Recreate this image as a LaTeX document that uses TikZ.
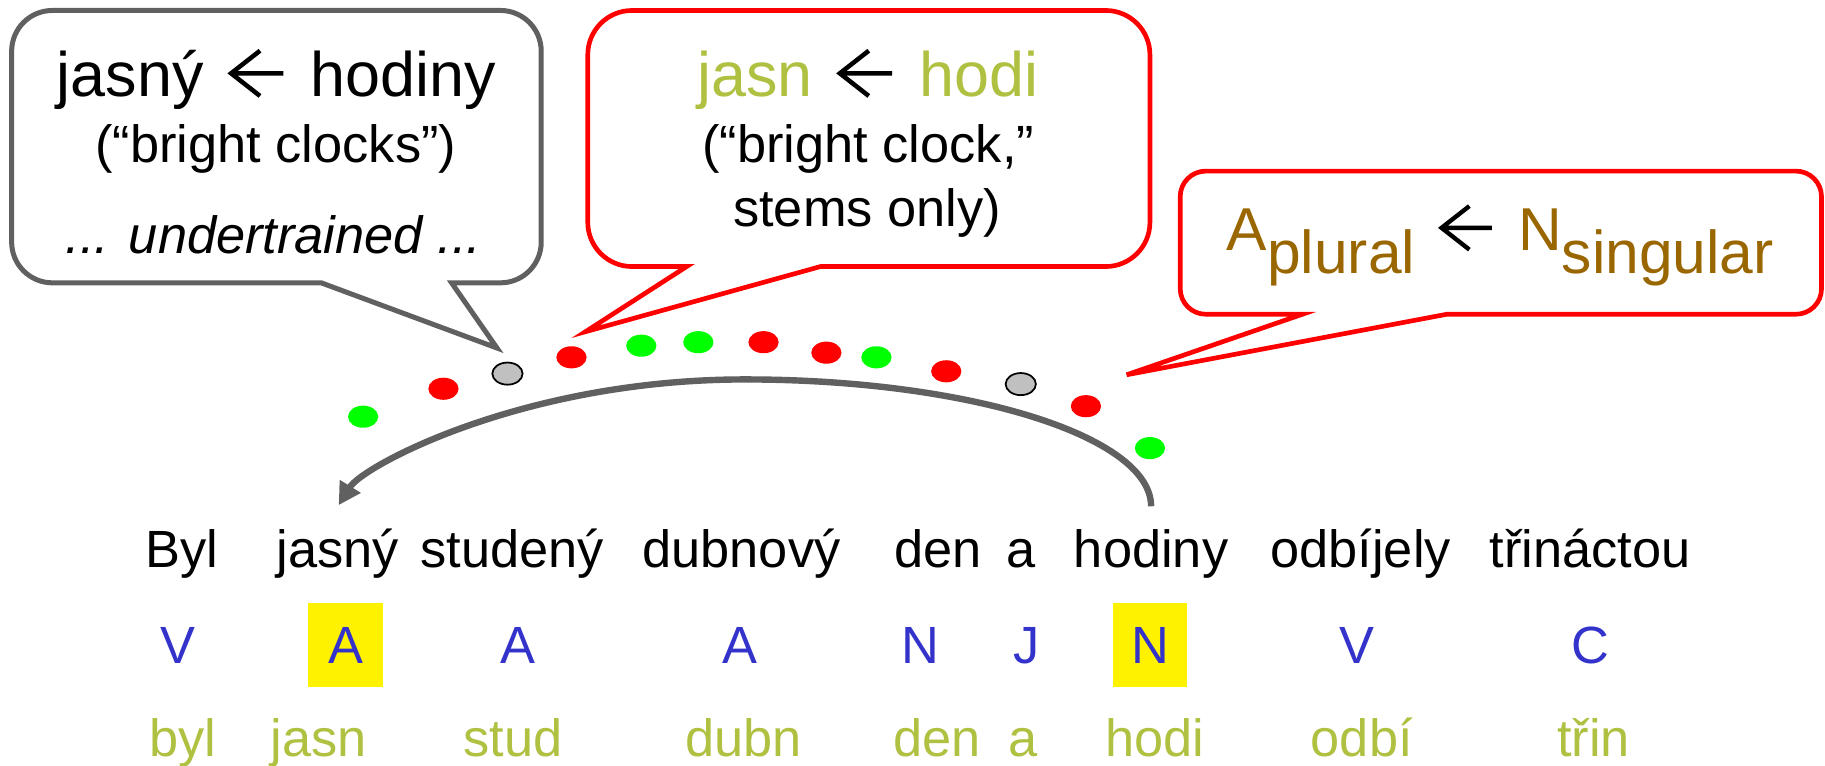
\documentclass[tikz,border=0pt]{standalone}
\usepackage{fontspec}
\setmainfont{Liberation Sans}
\usetikzlibrary{arrows.meta,shapes.geometric,calc}

\definecolor{stemgreen}{HTML}{B0C040}
\definecolor{tagblue}{HTML}{3333CC}
\definecolor{catbrown}{HTML}{996600}
\definecolor{calloutgray}{HTML}{606060}
\definecolor{dotgreen}{HTML}{00FF00}
\definecolor{dotred}{HTML}{FF0000}
\definecolor{dotgray}{HTML}{C0C0C0}

% open-headed left arrow used inside the callout texts
\newcommand{\larr}{\hspace{0.4em}\tikz[baseline=0pt]\draw[black,line width=0.072em,line cap=butt,line join=miter]
  (0.86em,0.37em) -- (0.03em,0.37em)
  (0.49em,0.73em) -- (0.03em,0.37em) -- (0.49em,0.01em);\hspace{0.4em}}

\begin{document}
\begin{tikzpicture}[x=1pt,y=-1pt,
  word/.style={anchor=base,inner sep=0pt,font=\fontsize{45}{54}\selectfont},
  tag/.style={word,text=tagblue},
  hltag/.style={tag,fill=yellow,text height=52pt,text depth=20pt,minimum width=64pt},
  stem/.style={word,text=stemgreen},
  big/.style={anchor=base,inner sep=0pt,font=\fontsize{54}{62}\selectfont},
  small/.style={anchor=base,inner sep=0pt,font=\fontsize{45}{54}\selectfont},
  dot/.style={ellipse,minimum width=26pt,minimum height=19pt,inner sep=0pt},
  gdot/.style={dot,fill=dotgreen},
  rdot/.style={dot,fill=dotred},
  udot/.style={dot,fill=dotgray,draw=black,line width=1.5pt},
  graycall/.style={draw=calloutgray,line width=4.3pt,fill=white,line join=miter},
  redcall/.style={draw=red,line width=4pt,fill=white,line join=miter},
  link/.style={draw=calloutgray,line width=5.5pt,-{Triangle[width=20pt,length=19pt]}}
]
\useasboundingbox (0,0) rectangle (1568,658);

% sentence
\node[word] (w1) at (156,488) {Byl};
\node[word] (w2) at (290,488) {jasný};
\node[word] (w3) at (440,488) {studený};
\node[word] (w4) at (637,488) {dubnový};
\node[word] (w5) at (806,488) {den};
\node[word] (w6) at (877,488) {a};
\node[word] (w7) at (989,488) {hodiny};
\node[word] (w8) at (1169,488) {odbíjely};
\node[word] (w9) at (1366,488) {třináctou};

% part-of-speech tags
\node[tag]   (t1) at (153,570) {V};
\node[hltag] (t2) at (297,570) {A};
\node[tag]   (t3) at (445,570) {A};
\node[tag]   (t4) at (636,570) {A};
\node[tag]   (t5) at (791,570) {N};
\node[tag]   (t6) at (882,570) {J};
\node[hltag] (t7) at (988,570) {N};
\node[tag]   (t8) at (1166,570) {V};
\node[tag]   (t9) at (1366,570) {C};

% stems
\node[stem] (s1) at (157,650) {byl};
\node[stem] (s2) at (274,650) {jasn};
\node[stem] (s3) at (441,650) {stud};
\node[stem] (s4) at (639,650) {dubn};
\node[stem] (s5) at (805,650) {den};
\node[stem] (s6) at (879,650) {a};
\node[stem] (s7) at (992,650) {hodi};
\node[stem] (s8) at (1170,650) {odbí};
\node[stem] (s9) at (1369,650) {třin};

% dependency arc from hodiny back to jasný
\coordinate (arcstart) at ($(w7.base)+(0,-53)$);
\coordinate (arcend) at ($(w2.base)+(1,-54)$);
\draw[link] (arcstart) .. controls (989,375) and (833,326) .. (640,326)
  .. controls (450,326) and (312,400) .. (arcend);

% feature dots
\node[gdot] (d1)  at (312,358) {};
\node[rdot] (d2)  at (381,334) {};
\node[udot] (d3)  at (436,321) {};
\node[rdot] (d4)  at (491,307) {};
\node[gdot] (d5)  at (551,297) {};
\node[gdot] (d6)  at (600,294) {};
\node[rdot] (d7)  at (656,294) {};
\node[rdot] (d8)  at (710,303) {};
\node[gdot] (d9)  at (753,307) {};
\node[rdot] (d10) at (813,319) {};
\node[udot] (d11) at (877,330) {};
\node[rdot] (d12) at (933,349) {};
\node[gdot] (d13) at (988,385) {};

% callout pointer tips
\coordinate (tipG)  at (427,299);
\coordinate (tipR1) at (503,285);
\coordinate (tipR2) at (968,322);

% gray callout
\draw[graycall] (45,9) -- (430,9) arc[start angle=90,end angle=0,radius=35pt]
  -- (465,208) arc[start angle=0,end angle=-90,radius=35pt]
  -- (388,243) -- (tipG) -- (276,243)
  -- (45,243) arc[start angle=270,end angle=180,radius=35pt]
  -- (10,44) arc[start angle=180,end angle=90,radius=35pt] -- cycle;
\node[big]   (g1) at (237.5,83) {jasný\larr hodiny};
\node[small] (g2) at (237,140) {(“bright clocks”)};
\node[small,font=\fontsize{45}{54}\selectfont\itshape] (g3) at (235,218) {... undertrained ...};

% stem callout
\draw[redcall] (543,9) -- (950,9) arc[start angle=90,end angle=0,radius=38pt]
  -- (988,191) arc[start angle=0,end angle=-90,radius=38pt]
  -- (705,229) -- (tipR1) -- (590,229)
  -- (543,229) arc[start angle=270,end angle=180,radius=38pt]
  -- (505,47) arc[start angle=180,end angle=90,radius=38pt] -- cycle;
\node[big,text=stemgreen] (r1) at (745.5,83) {jasn\larr hodi};
\node[small] (r2) at (746,140) {(“bright clock,”};
\node[small] (r3) at (745,195) {stems only)};

% category callout
\draw[redcall] (1036,147) -- (1543,147) arc[start angle=90,end angle=0,radius=22pt]
  -- (1565,248) arc[start angle=0,end angle=-90,radius=22pt]
  -- (1243,270) -- (tipR2) -- (1119,270)
  -- (1036,270) arc[start angle=270,end angle=180,radius=22pt]
  -- (1014,169) arc[start angle=180,end angle=90,radius=22pt] -- cycle;
\node[anchor=base,inner sep=0pt,font=\fontsize{52}{60}\selectfont,text=catbrown] (c1) at (1289,215)
  {A\raisebox{-20pt}{plural}\larr N\raisebox{-20pt}{singular}};
\end{tikzpicture}
\end{document}
